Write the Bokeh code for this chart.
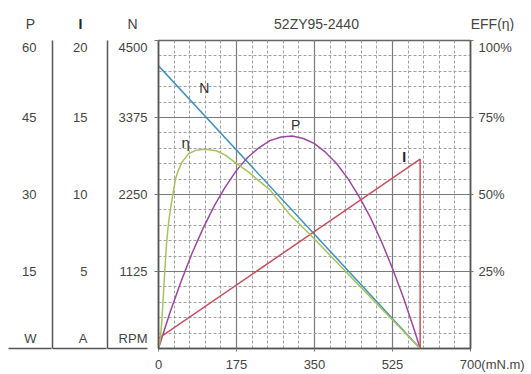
from bokeh.plotting import figure
from bokeh.layouts import column
from bokeh.models import LinearAxis, Range1d, FixedTicker, Label
from bokeh.core.properties import value
from bokeh.embed import file_html
from bokeh.resources import INLINE

# ---------------- data ----------------
x_ticks = [0, 175, 350, 525, 700]
eff_ticks = [25, 50, 75, 100]
eff_tick_labels = ["25%", "50%", "75%", "100%"]
n_ticks = [1125, 2250, 3375, 4500]
i_ticks = [5, 10, 15, 20]
p_ticks = [15, 30, 45, 60]

torque_n = [0, 587]
speed_n = [4130, 0]

torque_i = [0, 587, 587]
current_i = [0.65, 12.3, 0]

torque_p = [0, 25, 50, 75, 100, 125, 150, 175, 200, 225, 250, 275, 300, 325, 350,
            375, 400, 425, 450, 475, 500, 525, 550, 575, 587]
power_p = [0, 6.8, 12.9, 18.5, 23.4, 27.8, 31.5, 34.7, 37.2, 39.1, 40.5, 41.2, 41.4, 40.9, 39.9,
           38.2, 36.0, 33.1, 29.6, 25.6, 20.9, 15.6, 9.8, 3.3, 0]

torque_eff = [0, 4, 7, 10, 14, 18, 22, 26, 31, 38, 45, 53, 68, 85, 105, 130, 150, 171, 200, 250,
              295, 340, 400, 450, 500, 525, 550, 587]
eff_vals = [0, 3, 8, 15, 25, 34, 40, 44.5, 49, 55, 58, 60.6, 63.3, 64.4, 64.7, 64.2, 62.8, 60.5,
            57.5, 51.5, 43.4, 37, 28, 20.5, 13, 9.3, 5.5, 0]

header_texts = ["P", "N", "52ZY95-2440", "EFF(η)"]
unit_texts = {"P": "W", "I": "A", "N": "RPM"}

FONT = "Liberation Sans"
TXT = "#444444"
AX = "#555555"
FS = "\u2007"
TOP_SHIFT = 0.977   # top tick labels sit a few pixels below the frame edge, as in the reference

# ---------------- header strip ----------------
top = figure(width=531, height=31, x_range=Range1d(0, 531), y_range=Range1d(0, 31),
             output_backend="svg", toolbar_location=None, x_axis_type=None, y_axis_type=None,
             min_border=0, min_border_left=0, min_border_right=0, min_border_top=0,
             min_border_bottom=0, outline_line_color=None, frame_align=False)
top.xgrid.visible = False
top.ygrid.visible = False
top.text(x=[30, 132, 316, 492], y=[8, 8, 8, 8], text=header_texts,
         text_font=value(FONT), text_font_size="14px", text_color=TXT,
         text_align="center", text_baseline="middle")
top.text(x=[80], y=[8], text=["I"], text_font=value(FONT), text_font_size="14px",
         text_font_style="bold", text_color="#222222", text_align="center", text_baseline="middle")

# ---------------- main chart ----------------
p = figure(width=531, height=343, x_range=Range1d(0, 700), y_range=Range1d(0, 100),
           y_axis_location="right", output_backend="svg", toolbar_location=None,
           min_border_left=158, min_border_right=61, min_border_top=9, min_border_bottom=25,
           background_fill_color="white", border_fill_color="white", frame_align=False)
p.extra_y_ranges = {"N": Range1d(0, 4500), "I": Range1d(0, 20), "P": Range1d(0, 60)}
p.outline_line_color = "#666666"
p.outline_line_width = 1.5

xa = p.xaxis[0]
xa.ticker = FixedTicker(ticks=x_ticks, minor_ticks=list(range(0, 701, 35)))
xa.major_label_overrides = {700: FS * 6 + "700(mN.m)"}

for g in (p.xgrid[0], p.ygrid[0]):
    g.grid_line_color = "#7a7a7a"
    g.grid_line_width = 1.2
    g.minor_grid_line_color = "#a0a0a0"
    g.minor_grid_line_dash = "3 2"
    g.minor_grid_line_width = 1
p.ygrid[0].ticker = FixedTicker(ticks=[0] + eff_ticks, minor_ticks=list(range(0, 101, 5)))


def style(ax, tick_out, standoff):
    ax.axis_line_color = AX
    ax.axis_line_width = 1.5
    ax.major_tick_in = 0
    ax.major_tick_out = tick_out
    ax.major_tick_line_color = "#777777"
    ax.minor_tick_in = 0
    ax.minor_tick_out = 0
    ax.minor_tick_line_color = AX
    ax.minor_tick_line_width = 1.5
    ax.major_label_standoff = standoff
    ax.major_label_text_font = FONT
    ax.major_label_text_font_size = "13px"
    ax.major_label_text_color = TXT


def label_ticks(ticks, top_value):
    pos = list(ticks[:-1]) + [round(ticks[-1] * TOP_SHIFT, 2)]
    return pos


style(xa, 3, 5)

# right axis: efficiency
ya = p.yaxis[0]
eff_pos = label_ticks(eff_ticks, 100)
ya.ticker = FixedTicker(ticks=eff_pos, minor_ticks=eff_ticks)
ya.major_label_overrides = {t: l for t, l in zip(eff_pos, eff_tick_labels)}
style(ya, 0, 5)
ya.minor_tick_out = 3
ya.minor_tick_line_color = "#777777"
ya.minor_tick_line_width = 1

# N column (nearest the frame); unit label sits on an extra tick near the bottom
n_pos = label_ticks(n_ticks, 4500)
axN = LinearAxis(y_range_name="N", ticker=FixedTicker(ticks=[150] + n_pos, minor_ticks=n_ticks))
style(axN, 0, 7)
axN.minor_tick_out = 4
axN.minor_tick_line_color = "#777777"
axN.minor_tick_line_width = 1
axN.major_label_overrides = {150: unit_texts["N"], **{t: str(v) for t, v in zip(n_pos, n_ticks)}}
axN.axis_label = " "
axN.axis_label_text_font_size = "1px"
axN.axis_label_standoff = 4
p.add_layout(axN, "left")

# I column
i_pos = label_ticks(i_ticks, 20)
axI = LinearAxis(y_range_name="I", ticker=FixedTicker(ticks=[0.65] + i_pos, minor_ticks=[0]))
style(axI, 0, 20)
axI.minor_tick_in = 40
axI.major_label_overrides = {0.65: unit_texts["I"], **{t: str(v) for t, v in zip(i_pos, i_ticks)}}
axI.axis_label = " "
axI.axis_label_text_font_size = "1px"
axI.axis_label_standoff = 13
p.add_layout(axI, "left")

# P column
p_pos = label_ticks(p_ticks, 60)
axP = LinearAxis(y_range_name="P", ticker=FixedTicker(ticks=[2] + p_pos, minor_ticks=[0]))
style(axP, 0, 16)
axP.minor_tick_in = 54
axP.major_label_overrides = {2: unit_texts["P"], **{t: str(v) for t, v in zip(p_pos, p_ticks)}}
axP.axis_label = " "
axP.axis_label_text_font_size = "1px"
axP.axis_label_standoff = 6
p.add_layout(axP, "left")

# outermost helper axis: only its baseline tick under the P column
axB = LinearAxis(y_range_name="P", ticker=FixedTicker(ticks=[], minor_ticks=[0]))
style(axB, 0, 0)
axB.axis_line_color = None
axB.minor_tick_in = 43
p.add_layout(axB, "left")

# curves
p.line(torque_n, speed_n, y_range_name="N", line_color="#3f8fbf", line_width=1.5)
p.line(torque_p, power_p, y_range_name="P", line_color="#9b46a3", line_width=1.5)
p.line(torque_i, current_i, y_range_name="I", line_color="#c8505e", line_width=1.5)
p.line(torque_eff, eff_vals, line_color="#a6c35c", line_width=1.5)


def lab(x, y, text, size="14px", bold=False, color="#333333"):
    p.add_layout(Label(x=x, y=y, text=text, text_font=FONT, text_font_size=size,
                       text_font_style="bold" if bold else "normal",
                       text_align="center", text_baseline="middle", text_color=color))


lab(103, 84.5, "N")
lab(61, 67, "η", "15px")
lab(308, 72.5, "P")
lab(551, 62.1, "I", bold=True, color="#222222")

open("out.html", "w").write(file_html(column(top, p, spacing=0), INLINE))
